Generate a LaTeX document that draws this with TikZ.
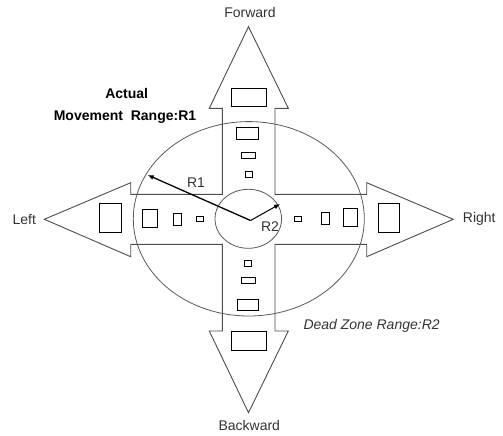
\documentclass[tikz,border=0pt]{standalone}
\usepackage{fontspec}
\setmainfont{Liberation Sans}
\usetikzlibrary{arrows.meta}
\begin{document}
\begin{tikzpicture}[x=1pt,y=-1pt,
  outline/.style={draw=black!70,line width=0.9pt},
  ring/.style={draw=black!65,line width=0.8pt},
  pad/.style={draw=black,line width=0.8pt},
  lbl/.style={font=\fontsize{14}{16}\selectfont,text=black!80,inner sep=0pt},
  radius arrow/.style={draw=black,line width=1.3pt,-{Latex[length=6pt,width=5pt]}}]
\useasboundingbox (0,0) rectangle (503,436);
% cross-shaped four-way arrow
\draw[outline] (248.5,26.7) -- (288.3,108.3) -- (275,108.3) -- (275,194.3)
  -- (366.7,194.3) -- (366.7,182.7) -- (453.3,219.3) -- (366.7,256.7)
  -- (366.7,244.3) -- (275,244.3) -- (275,331) -- (288.3,331)
  -- (248.5,412.7) -- (209.3,331) -- (222.3,331) -- (222.3,244.3)
  -- (130.7,244.3) -- (130.7,256.7) -- (44.3,219.3) -- (130.7,182.7)
  -- (130.7,194.3) -- (222.3,194.3) -- (222.3,108.3) -- (209.3,108.3) -- cycle;
% ranges
\draw[ring] (248.8,218.8) ellipse [x radius=115.5, y radius=97.2];
\draw[ring] (248.3,218.8) ellipse [x radius=33.3, y radius=29.5];
% pads, top arm
\draw[pad] (231,88.3) rectangle (266.7,106);
\draw[pad] (236.7,127.7) rectangle (258,139);
\draw[pad] (241.3,152.3) rectangle (255.7,158.3);
\draw[pad] (245,171.7) rectangle (252.3,177.7);
% bottom arm
\draw[pad] (244.3,260.7) rectangle (251.7,266.7);
\draw[pad] (241.3,277.7) rectangle (255.7,283.3);
\draw[pad] (237.3,299.3) rectangle (258.3,310.7);
\draw[pad] (231,331.7) rectangle (266.7,350);
% left arm
\draw[pad] (99.3,203.3) rectangle (121,232.3);
\draw[pad] (142.3,209) rectangle (157.3,227.3);
\draw[pad] (173.3,213.3) rectangle (181.7,225);
\draw[pad] (196,216.7) rectangle (203.3,221.7);
% right arm
\draw[pad] (294,216.7) rectangle (301.7,221.7);
\draw[pad] (321.7,212.3) rectangle (329.3,224);
\draw[pad] (343.3,208.3) rectangle (357.3,226.7);
\draw[pad] (378.3,203.3) rectangle (399.3,232.3);
% radii
\coordinate (c) at (250.5,220.5);
\coordinate (r1end) at (147.7,175);
\coordinate (r2end) at (280,204);
\draw[radius arrow] (c) -- (r1end);
\draw[radius arrow,line width=1pt] (c) -- (r2end);
% labels
\node[lbl] (fwd) at (250,12.3) {Forward};
\node[lbl] (bwd) at (249.3,425) {Backward};
\node[lbl] (left) at (24.3,219.3) {Left};
\node[lbl] (right) at (479.3,219.3) {Right};
\node[lbl] (r1) at (196,182.7) {R1};
\node[lbl] (r2) at (270,226.7) {R2};
\node[lbl,font=\fontsize{14}{16}\selectfont\bfseries,text=black] (act) at (126.7,93.3) {Actual};
\node[lbl,font=\fontsize{14}{16}\selectfont\bfseries,text=black] (mov) at (125,116.7) {Movement\ \ Range:R1};
\node[lbl,font=\fontsize{14}{16}\selectfont\itshape] (dead) at (371.6,326) {Dead Zone Range:R2};
\end{tikzpicture}
\end{document}
